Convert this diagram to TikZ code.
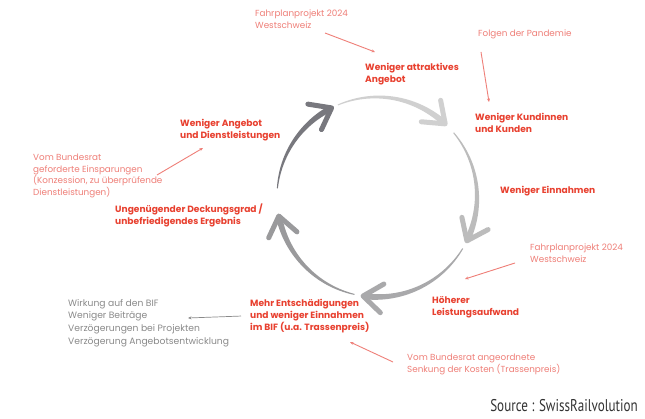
\documentclass[tikz,border=0pt]{standalone}
\usepackage{fontspec}
\usetikzlibrary{calc, arrows.meta}
\newfontfamily\labelfont{Poppins}
\newfontfamily\srcfont[FakeStretch=0.77]{PT Sans}

\definecolor{effectred}{HTML}{E8402F}
\definecolor{causered}{HTML}{EF7F78}
\definecolor{notegray}{HTML}{8A8A8A}
\definecolor{arcA}{HTML}{D0D0D0}
\definecolor{arcB}{HTML}{BCBCBC}
\definecolor{arcC}{HTML}{A9A9AB}
\definecolor{arcD}{HTML}{9A9A9C}
\definecolor{arcE}{HTML}{78787E}

\tikzset{
  effect/.style={text=effectred, font=\labelfont\bfseries\fontsize{9.1}{12}\selectfont,
    align=left, anchor=north west, inner sep=0pt},
  cause/.style={text=causered, font=\labelfont\fontsize{8.8}{11.6}\selectfont,
    align=left, anchor=north west, inner sep=0pt},
  note/.style={causered, line width=0.9pt, -{Stealth[length=3.5pt,width=3pt]}}
}

\begin{document}
\begin{tikzpicture}[x=1pt, y=-1pt]
        \useasboundingbox[fill=white] (0, 0) rectangle (645, 419);

        % cycle of five tapered arcs
        \begin{scope}[shift={(377, 197)}, yscale=-1]
        \foreach \s/\e/\c in {113/47/arcA, 40/-26/arcB, -31/-98/arcC, -103/-169/arcD, 175/117/arcE} {
            \fill[\c] plot[domain=\s:\e, samples=40] ({\x}:{100 + 0.5 + 2.6*(\x-\s)/(\e-\s)})
                -- plot[domain=\e:\s, samples=40] ({\x}:{100 - 0.5 - 2.6*(\x-\s)/(\e-\s)}) -- cycle;
            \draw[\c, line width=5pt, line cap=round, line join=round]
                ($(\e:100) + (\e+90+38:24)$) -- (\e:100) -- ($(\e:100) + (\e+90-36:24)$);
        }
        \end{scope}

        % effects
        \node[effect] (angebot)  at (365, 63)  {Weniger attraktives\\Angebot};
        \node[effect] (kunden)   at (475, 113) {Weniger Kundinnen\\und Kunden};
        \node[effect] (einnahme) at (500, 186) {Weniger Einnahmen};
        \node[effect] (aufwand)  at (432, 296) {Höherer\\Leistungsaufwand};
        \node[effect] (bif)      at (250, 299) {Mehr Entschädigungen\\und weniger Einnahmen\\im BIF (u.a. Trassenpreis)};
        \node[effect] (deckung)  at (115, 204) {Ungenügender Deckungsgrad /\\unbefriedigendes Ergebnis};
        \node[effect] (dienst)   at (180, 119) {Weniger Angebot\\und Dienstleistungen};

        % causes
        \node[cause] (fahrplanA) at (255, 10)  {Fahrplanprojekt 2024\\Westschweiz};
        \node[cause] (pandemie)  at (478, 30)  {Folgen der Pandemie};
        \node[cause] (spar)      at (33, 154)  {Vom Bundesrat\\geforderte Einsparungen\\(Konzession, zu überprüfende\\Dienstleistungen)};
        \node[cause] (fahrplanB) at (530, 244) {Fahrplanprojekt 2024\\Westschweiz};
        \node[cause] (senkung)   at (407, 354) {Vom Bundesrat angeordnete\\Senkung der Kosten (Trassenpreis)};
        \node[cause, text=notegray, font=\labelfont\fontsize{9.2}{12.7}\selectfont] (wirkung) at (68, 299)
            {Wirkung auf den BIF\\Weniger Beiträge\\Verzögerungen bei Projekten\\Verzögerung Angebotsentwicklung};

        % free ends of the cause arrows
        \coordinate (fahrplanA-from) at (325, 33);
        \coordinate (angebot-to) at (375, 52);
        \coordinate (pandemie-from) at (481, 52);
        \coordinate (kunden-to) at (489, 102);
        \coordinate (spar-from) at (157, 175);
        \coordinate (dienst-to) at (203, 148);
        \coordinate (fahrplanB-from) at (515, 263);
        \coordinate (aufwand-to) at (465, 279);
        \coordinate (senkung-from) at (393, 362);
        \coordinate (bif-to) at (350, 342);
        \coordinate (wirkung-to) at (188, 318);

        \draw[note] (fahrplanA-from) -- (angebot-to);
        \draw[note] (pandemie-from) -- (kunden-to);
        \draw[note] (spar-from) -- (dienst-to);
        \draw[note] (fahrplanB-from) -- (aufwand-to);
        \draw[note] (senkung-from) -- (bif-to);
        \draw[note, notegray, line width=0.7pt] ([xshift=-9pt]bif.west) -- (wirkung-to);

        \node[anchor=east, inner sep=0pt, text=black!80, font=\srcfont\fontsize{17}{20}\selectfont]
            (source) at (638, 406) {Source : SwissRailvolution};
\end{tikzpicture}
\end{document}
